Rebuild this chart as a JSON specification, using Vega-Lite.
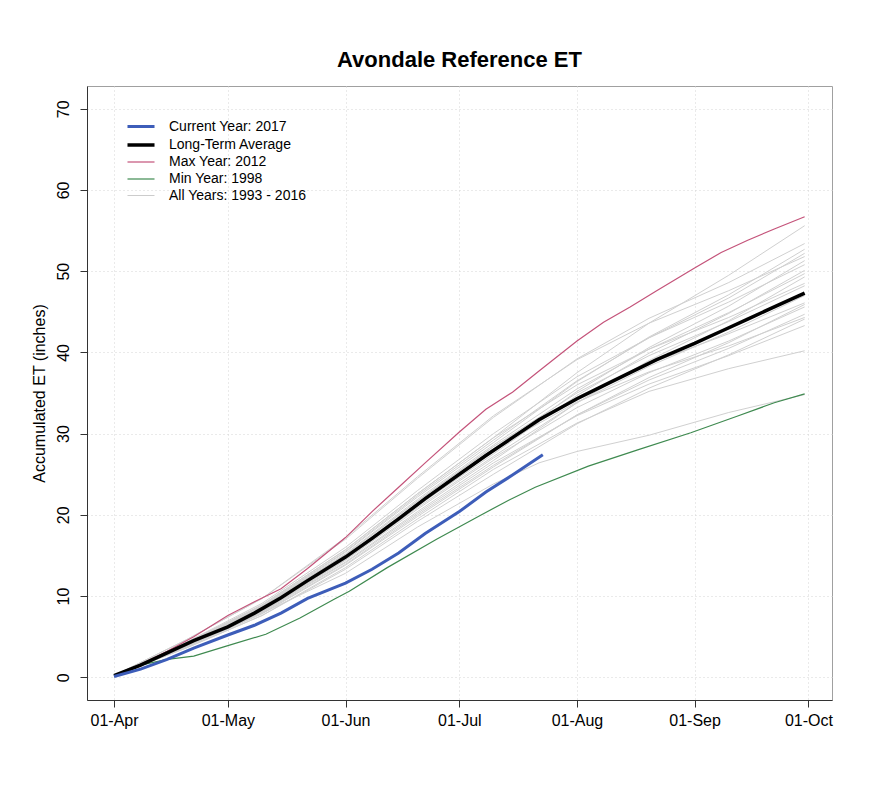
{
"$schema": "https://vega.github.io/schema/vega-lite/v6.json",
"width": 745, "height": 614,
"autosize": {"type": "none"},
"padding": {"left": 87, "top": 86, "right": 43, "bottom": 87},
"background": "white",
"title": {"text": "Avondale Reference ET", "fontSize": 22, "font": "Liberation Sans", "fontWeight": "bold", "anchor": "middle", "offset": 9, "dy": -5, "color": "#000"},
"datasets": {
"g": [
{"y":"1993","d":"2017-04-01","v":0.2},{"y":"1993","d":"2017-04-20","v":4.2},{"y":"1993","d":"2017-05-10","v":8.9},{"y":"1993","d":"2017-06-01","v":15.7},{"y":"1993","d":"2017-06-20","v":22.6},{"y":"1993","d":"2017-07-10","v":29.5},{"y":"1993","d":"2017-08-01","v":37.5},{"y":"1993","d":"2017-08-20","v":43.6},{"y":"1993","d":"2017-09-10","v":49.5},{"y":"1993","d":"2017-09-30","v":55.6},
{"y":"1994","d":"2017-04-01","v":0.2},{"y":"1994","d":"2017-04-20","v":4.6},{"y":"1994","d":"2017-05-10","v":9.7},{"y":"1994","d":"2017-06-01","v":17.0},{"y":"1994","d":"2017-06-20","v":24.5},{"y":"1994","d":"2017-07-10","v":32.0},{"y":"1994","d":"2017-08-01","v":39.2},{"y":"1994","d":"2017-08-20","v":44.2},{"y":"1994","d":"2017-09-10","v":48.6},{"y":"1994","d":"2017-09-30","v":53.4},
{"y":"1995","d":"2017-04-01","v":0.2},{"y":"1995","d":"2017-04-20","v":4.2},{"y":"1995","d":"2017-05-10","v":8.8},{"y":"1995","d":"2017-06-01","v":15.5},{"y":"1995","d":"2017-06-20","v":22.4},{"y":"1995","d":"2017-07-10","v":29.2},{"y":"1995","d":"2017-08-01","v":36.5},{"y":"1995","d":"2017-08-20","v":41.8},{"y":"1995","d":"2017-09-10","v":46.7},{"y":"1995","d":"2017-09-30","v":52.2},
{"y":"1996","d":"2017-04-01","v":0.2},{"y":"1996","d":"2017-04-20","v":4.6},{"y":"1996","d":"2017-05-10","v":9.7},{"y":"1996","d":"2017-06-01","v":17.2},{"y":"1996","d":"2017-06-20","v":24.7},{"y":"1996","d":"2017-07-10","v":32.2},{"y":"1996","d":"2017-08-01","v":39.1},{"y":"1996","d":"2017-08-20","v":43.6},{"y":"1996","d":"2017-09-10","v":47.6},{"y":"1996","d":"2017-09-30","v":51.8},
{"y":"1997","d":"2017-04-01","v":0.2},{"y":"1997","d":"2017-04-20","v":4.0},{"y":"1997","d":"2017-05-10","v":8.4},{"y":"1997","d":"2017-06-01","v":14.8},{"y":"1997","d":"2017-06-20","v":21.3},{"y":"1997","d":"2017-07-10","v":27.8},{"y":"1997","d":"2017-08-01","v":35.2},{"y":"1997","d":"2017-08-20","v":40.6},{"y":"1997","d":"2017-09-10","v":45.7},{"y":"1997","d":"2017-09-30","v":51.3},
{"y":"1999","d":"2017-04-01","v":0.2},{"y":"1999","d":"2017-04-20","v":4.3},{"y":"1999","d":"2017-05-10","v":9.1},{"y":"1999","d":"2017-06-01","v":16.0},{"y":"1999","d":"2017-06-20","v":23.0},{"y":"1999","d":"2017-07-10","v":30.0},{"y":"1999","d":"2017-08-01","v":37.0},{"y":"1999","d":"2017-08-20","v":41.8},{"y":"1999","d":"2017-09-10","v":46.2},{"y":"1999","d":"2017-09-30","v":50.8},
{"y":"2000","d":"2017-04-01","v":0.2},{"y":"2000","d":"2017-04-20","v":4.1},{"y":"2000","d":"2017-05-10","v":8.7},{"y":"2000","d":"2017-06-01","v":15.2},{"y":"2000","d":"2017-06-20","v":21.9},{"y":"2000","d":"2017-07-10","v":28.6},{"y":"2000","d":"2017-08-01","v":35.5},{"y":"2000","d":"2017-08-20","v":40.4},{"y":"2000","d":"2017-09-10","v":44.9},{"y":"2000","d":"2017-09-30","v":49.7},
{"y":"2001","d":"2017-04-01","v":0.2},{"y":"2001","d":"2017-04-20","v":3.8},{"y":"2001","d":"2017-05-10","v":8.1},{"y":"2001","d":"2017-06-01","v":14.2},{"y":"2001","d":"2017-06-20","v":20.4},{"y":"2001","d":"2017-07-10","v":26.7},{"y":"2001","d":"2017-08-01","v":33.8},{"y":"2001","d":"2017-08-20","v":39.0},{"y":"2001","d":"2017-09-10","v":43.9},{"y":"2001","d":"2017-09-30","v":49.3},
{"y":"2002","d":"2017-04-01","v":0.2},{"y":"2002","d":"2017-04-20","v":4.2},{"y":"2002","d":"2017-05-10","v":8.9},{"y":"2002","d":"2017-06-01","v":15.7},{"y":"2002","d":"2017-06-20","v":22.6},{"y":"2002","d":"2017-07-10","v":29.5},{"y":"2002","d":"2017-08-01","v":36.0},{"y":"2002","d":"2017-08-20","v":40.4},{"y":"2002","d":"2017-09-10","v":44.3},{"y":"2002","d":"2017-09-30","v":48.5},
{"y":"2003","d":"2017-04-01","v":0.2},{"y":"2003","d":"2017-04-20","v":3.9},{"y":"2003","d":"2017-05-10","v":8.2},{"y":"2003","d":"2017-06-01","v":14.5},{"y":"2003","d":"2017-06-20","v":20.9},{"y":"2003","d":"2017-07-10","v":27.2},{"y":"2003","d":"2017-08-01","v":33.8},{"y":"2003","d":"2017-08-20","v":38.3},{"y":"2003","d":"2017-09-10","v":42.5},{"y":"2003","d":"2017-09-30","v":47.0},
{"y":"2004","d":"2017-04-01","v":0.2},{"y":"2004","d":"2017-04-20","v":4.1},{"y":"2004","d":"2017-05-10","v":8.6},{"y":"2004","d":"2017-06-01","v":15.1},{"y":"2004","d":"2017-06-20","v":21.7},{"y":"2004","d":"2017-07-10","v":28.4},{"y":"2004","d":"2017-08-01","v":34.5},{"y":"2004","d":"2017-08-20","v":38.6},{"y":"2004","d":"2017-09-10","v":42.3},{"y":"2004","d":"2017-09-30","v":46.1},
{"y":"2005","d":"2017-04-01","v":0.2},{"y":"2005","d":"2017-04-20","v":3.7},{"y":"2005","d":"2017-05-10","v":7.8},{"y":"2005","d":"2017-06-01","v":13.8},{"y":"2005","d":"2017-06-20","v":19.8},{"y":"2005","d":"2017-07-10","v":25.9},{"y":"2005","d":"2017-08-01","v":32.3},{"y":"2005","d":"2017-08-20","v":36.9},{"y":"2005","d":"2017-09-10","v":41.2},{"y":"2005","d":"2017-09-30","v":45.9},
{"y":"2006","d":"2017-04-01","v":0.2},{"y":"2006","d":"2017-04-20","v":3.9},{"y":"2006","d":"2017-05-10","v":8.1},{"y":"2006","d":"2017-06-01","v":14.4},{"y":"2006","d":"2017-06-20","v":20.7},{"y":"2006","d":"2017-07-10","v":27.0},{"y":"2006","d":"2017-08-01","v":33.2},{"y":"2006","d":"2017-08-20","v":37.5},{"y":"2006","d":"2017-09-10","v":41.4},{"y":"2006","d":"2017-09-30","v":45.6},
{"y":"2007","d":"2017-04-01","v":0.2},{"y":"2007","d":"2017-04-20","v":4.0},{"y":"2007","d":"2017-05-10","v":8.5},{"y":"2007","d":"2017-06-01","v":14.9},{"y":"2007","d":"2017-06-20","v":21.5},{"y":"2007","d":"2017-07-10","v":28.1},{"y":"2007","d":"2017-08-01","v":33.9},{"y":"2007","d":"2017-08-20","v":37.6},{"y":"2007","d":"2017-09-10","v":40.8},{"y":"2007","d":"2017-09-30","v":44.3},
{"y":"2008","d":"2017-04-01","v":0.2},{"y":"2008","d":"2017-04-20","v":3.6},{"y":"2008","d":"2017-05-10","v":7.6},{"y":"2008","d":"2017-06-01","v":13.3},{"y":"2008","d":"2017-06-20","v":19.2},{"y":"2008","d":"2017-07-10","v":25.0},{"y":"2008","d":"2017-08-01","v":31.2},{"y":"2008","d":"2017-08-20","v":35.6},{"y":"2008","d":"2017-09-10","v":39.7},{"y":"2008","d":"2017-09-30","v":44.1},
{"y":"2009","d":"2017-04-01","v":0.2},{"y":"2009","d":"2017-04-20","v":3.8},{"y":"2009","d":"2017-05-10","v":8.0},{"y":"2009","d":"2017-06-01","v":14.1},{"y":"2009","d":"2017-06-20","v":20.2},{"y":"2009","d":"2017-07-10","v":26.4},{"y":"2009","d":"2017-08-01","v":32.2},{"y":"2009","d":"2017-08-20","v":36.1},{"y":"2009","d":"2017-09-10","v":39.6},{"y":"2009","d":"2017-09-30","v":43.3},
{"y":"2010","d":"2017-04-01","v":0.2},{"y":"2010","d":"2017-04-20","v":3.6},{"y":"2010","d":"2017-05-10","v":7.6},{"y":"2010","d":"2017-06-01","v":13.5},{"y":"2010","d":"2017-06-20","v":19.5},{"y":"2010","d":"2017-07-10","v":25.6},{"y":"2010","d":"2017-08-01","v":31.3},{"y":"2010","d":"2017-08-20","v":35.2},{"y":"2010","d":"2017-09-10","v":38.0},{"y":"2010","d":"2017-09-30","v":40.2},
{"y":"2011","d":"2017-04-01","v":0.2},{"y":"2011","d":"2017-04-20","v":3.8},{"y":"2011","d":"2017-05-10","v":7.9},{"y":"2011","d":"2017-06-01","v":12.8},{"y":"2011","d":"2017-06-20","v":18.5},{"y":"2011","d":"2017-07-10","v":23.8},{"y":"2011","d":"2017-07-22","v":26.4},{"y":"2011","d":"2017-08-01","v":27.8},{"y":"2011","d":"2017-08-20","v":29.8},{"y":"2011","d":"2017-09-10","v":32.6},{"y":"2011","d":"2017-09-30","v":34.8},
{"y":"2013","d":"2017-04-01","v":0.2},{"y":"2013","d":"2017-04-20","v":4.2},{"y":"2013","d":"2017-05-10","v":8.7},{"y":"2013","d":"2017-06-01","v":15.4},{"y":"2013","d":"2017-06-20","v":22.2},{"y":"2013","d":"2017-07-10","v":28.9},{"y":"2013","d":"2017-08-01","v":36.4},{"y":"2013","d":"2017-08-20","v":41.9},{"y":"2013","d":"2017-09-10","v":47.1},{"y":"2013","d":"2017-09-30","v":52.7},
{"y":"2014","d":"2017-04-01","v":0.2},{"y":"2014","d":"2017-04-20","v":4.0},{"y":"2014","d":"2017-05-10","v":8.3},{"y":"2014","d":"2017-06-01","v":14.7},{"y":"2014","d":"2017-06-20","v":21.1},{"y":"2014","d":"2017-07-10","v":27.5},{"y":"2014","d":"2017-08-01","v":34.7},{"y":"2014","d":"2017-08-20","v":39.9},{"y":"2014","d":"2017-09-10","v":44.8},{"y":"2014","d":"2017-09-30","v":50.1},
{"y":"2015","d":"2017-04-01","v":0.2},{"y":"2015","d":"2017-04-20","v":4.1},{"y":"2015","d":"2017-05-10","v":8.6},{"y":"2015","d":"2017-06-01","v":15.1},{"y":"2015","d":"2017-06-20","v":21.7},{"y":"2015","d":"2017-07-10","v":28.4},{"y":"2015","d":"2017-08-01","v":35.0},{"y":"2015","d":"2017-08-20","v":39.6},{"y":"2015","d":"2017-09-10","v":43.8},{"y":"2015","d":"2017-09-30","v":48.2},
{"y":"2016","d":"2017-04-01","v":0.2},{"y":"2016","d":"2017-04-20","v":3.8},{"y":"2016","d":"2017-05-10","v":7.9},{"y":"2016","d":"2017-06-01","v":13.9},{"y":"2016","d":"2017-06-20","v":20.0},{"y":"2016","d":"2017-07-10","v":26.1},{"y":"2016","d":"2017-08-01","v":32.3},{"y":"2016","d":"2017-08-20","v":36.6},{"y":"2016","d":"2017-09-10","v":40.5},{"y":"2016","d":"2017-09-30","v":44.7}
],
"m": [
{"s":"Min Year: 1998","d":"2017-04-01","v":0.2},{"s":"Min Year: 1998","d":"2017-04-08","v":1.5},{"s":"Min Year: 1998","d":"2017-04-15","v":2.2},{"s":"Min Year: 1998","d":"2017-04-22","v":2.6},{"s":"Min Year: 1998","d":"2017-05-01","v":3.9},{"s":"Min Year: 1998","d":"2017-05-11","v":5.3},{"s":"Min Year: 1998","d":"2017-05-20","v":7.3},{"s":"Min Year: 1998","d":"2017-05-29","v":9.6},{"s":"Min Year: 1998","d":"2017-06-02","v":10.6},{"s":"Min Year: 1998","d":"2017-06-12","v":13.5},{"s":"Min Year: 1998","d":"2017-06-25","v":17.0},{"s":"Min Year: 1998","d":"2017-07-06","v":19.8},{"s":"Min Year: 1998","d":"2017-07-14","v":21.8},{"s":"Min Year: 1998","d":"2017-07-21","v":23.4},{"s":"Min Year: 1998","d":"2017-08-04","v":26.0},{"s":"Min Year: 1998","d":"2017-08-17","v":28.0},{"s":"Min Year: 1998","d":"2017-08-31","v":30.1},{"s":"Min Year: 1998","d":"2017-09-12","v":32.1},{"s":"Min Year: 1998","d":"2017-09-22","v":33.8},{"s":"Min Year: 1998","d":"2017-09-30","v":34.9},
{"s":"Max Year: 2012","d":"2017-04-01","v":0.2},{"s":"Max Year: 2012","d":"2017-04-08","v":1.6},{"s":"Max Year: 2012","d":"2017-04-15","v":3.2},{"s":"Max Year: 2012","d":"2017-04-22","v":5.0},{"s":"Max Year: 2012","d":"2017-05-01","v":7.6},{"s":"Max Year: 2012","d":"2017-05-08","v":9.3},{"s":"Max Year: 2012","d":"2017-05-15","v":10.9},{"s":"Max Year: 2012","d":"2017-05-22","v":13.4},{"s":"Max Year: 2012","d":"2017-06-01","v":17.2},{"s":"Max Year: 2012","d":"2017-06-08","v":20.4},{"s":"Max Year: 2012","d":"2017-06-15","v":23.4},{"s":"Max Year: 2012","d":"2017-06-22","v":26.4},{"s":"Max Year: 2012","d":"2017-07-01","v":30.2},{"s":"Max Year: 2012","d":"2017-07-08","v":33.0},{"s":"Max Year: 2012","d":"2017-07-15","v":35.1},{"s":"Max Year: 2012","d":"2017-07-22","v":37.7},{"s":"Max Year: 2012","d":"2017-08-01","v":41.4},{"s":"Max Year: 2012","d":"2017-08-08","v":43.7},{"s":"Max Year: 2012","d":"2017-08-15","v":45.6},{"s":"Max Year: 2012","d":"2017-08-22","v":47.6},{"s":"Max Year: 2012","d":"2017-09-01","v":50.4},{"s":"Max Year: 2012","d":"2017-09-08","v":52.3},{"s":"Max Year: 2012","d":"2017-09-15","v":53.8},{"s":"Max Year: 2012","d":"2017-09-22","v":55.2},{"s":"Max Year: 2012","d":"2017-09-30","v":56.7},
{"s":"Long-Term Average","d":"2017-04-01","v":0.2},{"s":"Long-Term Average","d":"2017-04-08","v":1.5},{"s":"Long-Term Average","d":"2017-04-15","v":3.0},{"s":"Long-Term Average","d":"2017-04-22","v":4.5},{"s":"Long-Term Average","d":"2017-05-01","v":6.2},{"s":"Long-Term Average","d":"2017-05-08","v":7.9},{"s":"Long-Term Average","d":"2017-05-15","v":9.8},{"s":"Long-Term Average","d":"2017-05-22","v":11.9},{"s":"Long-Term Average","d":"2017-06-01","v":14.8},{"s":"Long-Term Average","d":"2017-06-08","v":17.1},{"s":"Long-Term Average","d":"2017-06-15","v":19.5},{"s":"Long-Term Average","d":"2017-06-22","v":22.0},{"s":"Long-Term Average","d":"2017-07-01","v":25.0},{"s":"Long-Term Average","d":"2017-07-08","v":27.3},{"s":"Long-Term Average","d":"2017-07-15","v":29.5},{"s":"Long-Term Average","d":"2017-07-22","v":31.7},{"s":"Long-Term Average","d":"2017-08-01","v":34.3},{"s":"Long-Term Average","d":"2017-08-08","v":35.9},{"s":"Long-Term Average","d":"2017-08-15","v":37.5},{"s":"Long-Term Average","d":"2017-08-22","v":39.1},{"s":"Long-Term Average","d":"2017-09-01","v":41.1},{"s":"Long-Term Average","d":"2017-09-08","v":42.6},{"s":"Long-Term Average","d":"2017-09-15","v":44.1},{"s":"Long-Term Average","d":"2017-09-22","v":45.6},{"s":"Long-Term Average","d":"2017-09-30","v":47.3},
{"s":"Current Year: 2017","d":"2017-04-01","v":0.1},{"s":"Current Year: 2017","d":"2017-04-08","v":1.0},{"s":"Current Year: 2017","d":"2017-04-15","v":2.2},{"s":"Current Year: 2017","d":"2017-04-22","v":3.6},{"s":"Current Year: 2017","d":"2017-05-01","v":5.2},{"s":"Current Year: 2017","d":"2017-05-08","v":6.4},{"s":"Current Year: 2017","d":"2017-05-15","v":7.9},{"s":"Current Year: 2017","d":"2017-05-22","v":9.7},{"s":"Current Year: 2017","d":"2017-06-01","v":11.6},{"s":"Current Year: 2017","d":"2017-06-08","v":13.3},{"s":"Current Year: 2017","d":"2017-06-15","v":15.3},{"s":"Current Year: 2017","d":"2017-06-22","v":17.7},{"s":"Current Year: 2017","d":"2017-07-01","v":20.4},{"s":"Current Year: 2017","d":"2017-07-08","v":22.8},{"s":"Current Year: 2017","d":"2017-07-15","v":24.9},{"s":"Current Year: 2017","d":"2017-07-23","v":27.4}
]
},
"layer": [
{
"data": {"name": "g"},
"mark": {"type": "line", "stroke": "#d0d0d0", "strokeWidth": 1, "clip": true},
"encoding": {
"x": {"field": "d", "type": "temporal"},
"y": {"field": "v", "type": "quantitative"},
"detail": {"field": "y", "type": "nominal"}
}
},
{
"data": {"name": "m"},
"mark": {"type": "line", "clip": true},
"encoding": {
"x": {"field": "d", "type": "temporal"},
"y": {"field": "v", "type": "quantitative"},
"color": {"field": "s", "type": "nominal", "title": null, "scale": {"domain": ["Current Year: 2017", "Long-Term Average", "Max Year: 2012", "Min Year: 1998", "All Years: 1993 - 2016"], "range": ["#3D5DB9", "#000000", "#C4537A", "#3F8A50", "#CCCCCC"]}},
"strokeWidth": {"field": "s", "type": "nominal", "title": null, "scale": {"type": "ordinal", "domain": ["Current Year: 2017", "Long-Term Average", "Max Year: 2012", "Min Year: 1998", "All Years: 1993 - 2016"], "range": [3, 3.5, 1.2, 1.2, 1]}}
}
}
],
"encoding": {
"x": {"field": "d", "type": "temporal", "title": null,
"scale": {"type": "utc", "domain": [{"year": 2017, "month": 3, "date": 24, "hours": 21, "utc": true}, {"year": 2017, "month": 10, "date": 7, "hours": 5, "utc": true}]},
"axis": {"format": "%d-%b", "values": [{"year": 2017, "month": 4, "date": 1, "utc": true}, {"year": 2017, "month": 5, "date": 1, "utc": true}, {"year": 2017, "month": 6, "date": 1, "utc": true}, {"year": 2017, "month": 7, "date": 1, "utc": true}, {"year": 2017, "month": 8, "date": 1, "utc": true}, {"year": 2017, "month": 9, "date": 1, "utc": true}, {"year": 2017, "month": 10, "date": 1, "utc": true}], "labelPadding": 5, "labelFlush": false, "labelOverlap": false}},
"y": {"field": "v", "type": "quantitative", "title": "Accumulated ET (inches)",
"scale": {"domain": [-2.8, 72.8], "nice": false, "zero": false},
"axis": {"values": [0, 10, 20, 30, 40, 50, 60, 70], "labelAngle": -90, "labelAlign": "center", "labelBaseline": "bottom", "labelPadding": 9, "titlePadding": 8}}
},
"config": {
"font": "Liberation Sans",
"view": {"stroke": "#a0a0a0", "strokeWidth": 1},
"axis": {"labelFont": "Liberation Sans", "labelFontSize": 16, "labelColor": "#000", "titleFont": "Liberation Sans", "titleFontSize": 16, "titleFontWeight": "normal", "titleColor": "#000", "tickSize": 7, "tickColor": "#333", "domainColor": "#333", "grid": true, "gridColor": "#d4d4d4", "gridDash": [1, 3], "gridWidth": 1},
"legend": {"orient": "none", "legendX": 45, "legendY": 32, "symbolType": "M-1.93,0H1.93", "symbolSize": 196, "labelFont": "Liberation Sans", "labelFontSize": 14, "labelColor": "#000", "labelOffset": 19, "rowPadding": 2, "padding": 0}
}
}
